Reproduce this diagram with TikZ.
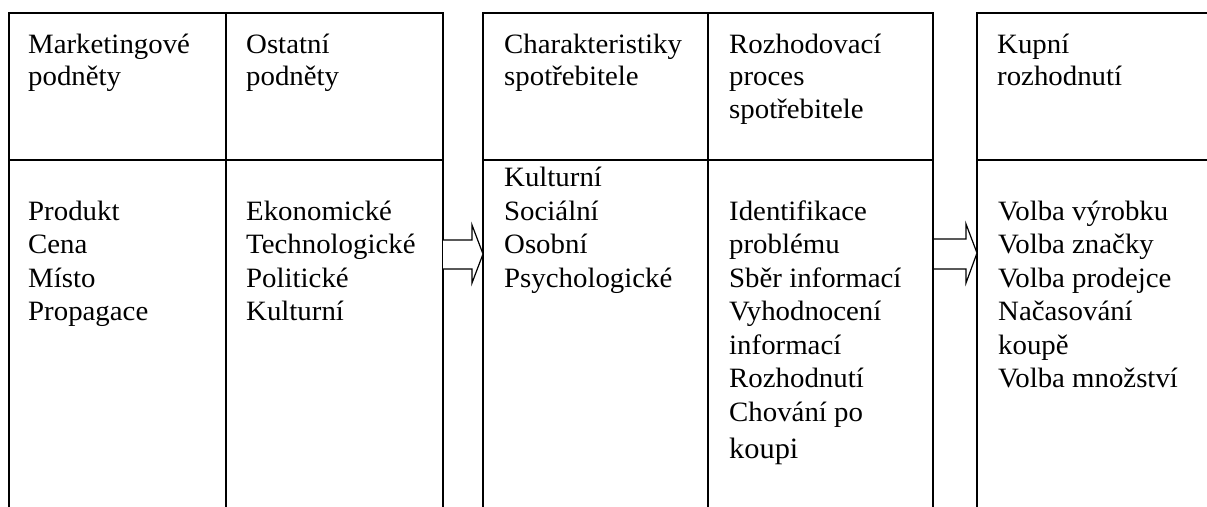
\documentclass[tikz,border=0pt]{standalone}
\usepackage{fontspec}
\setmainfont{Liberation Serif}[FakeStretch=1.03]
\begin{document}
\begin{tikzpicture}[x=1pt,y=1pt]
\tikzset{
  frame/.style={line width=1.4pt, line cap=rect},
  txt/.style={anchor=base west, inner sep=0pt, font=\fontsize{28}{33}\selectfont},
  blockarrow/.style={draw, line width=1.2pt, fill=white, line join=miter}
}
\useasboundingbox (0,0) rectangle (1207,-506);

% --- stimuli block
\coordinate (s-tl) at (9,-13);
\coordinate (s-tr) at (443,-13);
\draw[frame] (9,-506) -- (s-tl) -- (s-tr) -- (443,-506);
\draw[frame] (226,-13) -- (226,-506);
\draw[frame] (9,-160) -- (443,-160);

% --- consumer block
\coordinate (c-tl) at (483,-13);
\coordinate (c-tr) at (933,-13);
\draw[frame] (483,-506) -- (c-tl) -- (c-tr) -- (933,-506);
\draw[frame] (708,-13) -- (708,-506);
\draw[frame] (483,-160) -- (933,-160);

% --- decision block (open to the right)
\coordinate (d-tl) at (977,-13);
\draw[frame] (977,-506) -- (d-tl) -- (1208,-13);
\draw[frame] (977,-160) -- (1208,-160);

% --- block arrows between the blocks
\draw[blockarrow] (443,-240) -- (472,-240) -- (472,-225) -- (483,-254)
  -- (472,-283) -- (472,-269) -- (443,-269);
\draw[blockarrow] (934,-239) -- (966,-239) -- (966,-224) -- (977,-253)
  -- (966,-283) -- (966,-269) -- (934,-269);

% --- headings
\node[txt] (h1a) at (28,-53) {Marketingové};
\node[txt] (h1b) at (28,-85) {podněty};
\node[txt] (h2a) at (246,-53) {Ostatní};
\node[txt] (h2b) at (246,-85) {podněty};
\node[txt] (h3a) at (504,-53) {Charakteristiky};
\node[txt] (h3b) at (504,-85) {spotřebitele};
\node[txt] (h4a) at (729,-53) {Rozhodovací};
\node[txt] (h4b) at (729,-85) {proces};
\node[txt] (h4c) at (729,-118) {spotřebitele};
\node[txt] (h5a) at (997,-53) {Kupní};
\node[txt] (h5b) at (997,-85) {rozhodnutí};

% --- column contents
\foreach \t [count=\i] in {Produkt,Cena,Místo,Propagace}
  \node[txt, name=m\i] at (28,{-220-33.5*(\i-1)}) {\t};
\foreach \t [count=\i] in {Ekonomické,Technologické,Politické,Kulturní}
  \node[txt, name=o\i] at (246,{-220-33.5*(\i-1)}) {\t};
\foreach \t [count=\i] in {Kulturní,Sociální,Osobní,Psychologické}
  \node[txt, name=c\i] at (504,{-186.5-33.5*(\i-1)}) {\t};
\foreach \t [count=\i] in {Identifikace,problému,Sběr informací,Vyhodnocení,informací,Rozhodnutí,Chování po}
  \node[txt, name=r\i] at (729,{-220-33.5*(\i-1)}) {\t};
\node[txt, font=\fontsize{29.5}{33}\selectfont] (r8) at (729,-458) {koupi};
\foreach \t [count=\i] in {Volba výrobku,Volba značky,Volba prodejce,Načasování,koupě,Volba množství}
  \node[txt, name=k\i] at (998,{-220-33.5*(\i-1)}) {\t};
\end{tikzpicture}
\end{document}
